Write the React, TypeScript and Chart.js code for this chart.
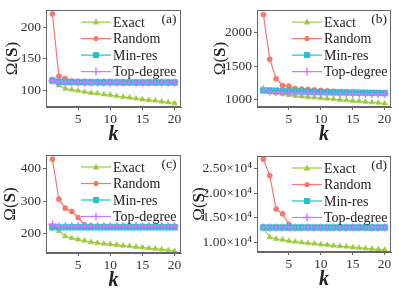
import React, { useEffect, useRef } from 'react';
import { Chart, registerables } from 'chart.js';
Chart.register(...registerables);

const kValues = [1, 2, 3, 4, 5, 6, 7, 8, 9, 10, 11, 12, 13, 14, 15, 16, 17, 18, 19, 20];
const seriesNames = ['Exact', 'Random', 'Min-res', 'Top-degree'];
const xTicks = [5, 10, 15, 20];

// Panel (a)
const exactA = [115, 107.5, 102, 100.5, 99, 97, 95.5, 94.5, 93, 92, 90.5, 89, 88, 86.5, 85, 84, 83, 81.5, 80.5, 79];
const randomA = [221, 122, 118, 114, 113.5, 113.5, 113, 113, 113, 113, 112.8, 112.8, 112.6, 112.6, 112.5, 112.5, 112.5, 112.4, 112.4, 112.3];
const minresA = [115, 113, 112.8, 112.6, 112.5, 112.4, 112.3, 112.3, 112.2, 112.2, 112.1, 112.1, 112, 112, 112, 112, 112, 112, 112, 112];
const topdegA = [115, 112.5, 112.3, 112.2, 112.1, 112, 112, 112, 112, 112, 112, 111.8, 111.8, 111.8, 111.8, 111.8, 111.8, 111.8, 111.8, 111.8];
const yTicksA = [100, 150, 200];

// Panel (b)
const exactB = [1150, 1110, 1100, 1090, 1075, 1060, 1050, 1040, 1035, 1025, 1020, 1010, 1000, 995, 985, 980, 972, 965, 958, 948];
const randomB = [2260, 1600, 1312, 1212, 1205, 1168, 1160, 1155, 1148, 1140, 1132, 1126, 1120, 1116, 1112, 1108, 1105, 1103, 1100, 1098];
const minresB = [1140, 1138, 1135, 1130, 1128, 1125, 1122, 1120, 1118, 1115, 1113, 1112, 1110, 1108, 1107, 1105, 1104, 1103, 1102, 1100];
const topdegB = [1155, 1120, 1112, 1108, 1105, 1102, 1100, 1098, 1097, 1095, 1094, 1093, 1092, 1091, 1090, 1089, 1088, 1087, 1086, 1085];
const yTicksB = [1000, 1500, 2000];

// Panel (c)
const exactC = [224, 207, 191, 185, 181, 177, 173, 170, 168, 166, 164, 162, 160, 158, 156, 154, 152, 150, 148, 145];
const randomC = [430, 306, 278, 268, 249, 226, 223, 222, 222, 222, 222, 222, 222, 222, 222, 222, 222, 222, 222, 222];
const minresC = [219, 219, 219, 219, 219, 219, 219, 219, 219, 219, 219, 219, 219, 219, 219, 219, 219, 219, 219, 219];
const topdegC = [228, 222, 222, 222, 222, 222, 222, 222, 222, 222, 222, 222, 222, 222, 222, 222, 222, 222, 222, 222];
const yTicksC = [200, 300, 400];

// Panel (d)
const exactD = [13000, 11000, 10670, 10500, 10250, 10100, 9950, 9800, 9700, 9550, 9450, 9300, 9200, 9100, 8950, 8850, 8750, 8650, 8550, 8450];
const randomD = [26960, 23600, 16770, 15800, 13650, 13000, 13000, 13000, 13000, 13000, 13000, 13000, 13000, 13000, 13000, 13000, 13000, 13000, 13000, 13000];
const minresD = [13000, 13000, 13000, 13000, 13000, 13000, 13000, 13000, 13000, 13000, 13000, 13000, 13000, 13000, 13000, 13000, 13000, 13000, 13000, 13000];
const topdegD = [13000, 13000, 13000, 13000, 13000, 13000, 13000, 13000, 13000, 13000, 13000, 13000, 13000, 13000, 13000, 13000, 13000, 13000, 13000, 13000];
const yTicksD = [10000, 15000, 20000, 25000];

const W = 399;
const H = 299;
const FONT = '"Liberation Serif", "Times New Roman", serif';
const FRAME = '#666666';
const TEXT = '#333333';
const COLORS = ['#9BCB3B', '#F8766D', '#1EC1CB', '#C77CFF'];
const STYLES = ['triangle', 'circle', 'rect', 'cross'];
const RADII = [3.2, 2.6, 4.2, 4];
const ORDERS = [3, 2, 1, 0];
const LEGEND_ROWS = [12, 28.5, 45, 61.5];

type PanelSpec = {
  label: string;
  series: number[][];
  area: [number, number, number, number]; // L, T, R, B
  yRange: [number, number];
  yTicks: number[];
  yTitleX: number;
  fmt: (v: number) => string;
};

const panels: PanelSpec[] = [
  { label: '(a)', series: [exactA, randomA, minresA, topdegA], area: [46, 8, 181, 107], yRange: [73, 227], yTicks: yTicksA, yTitleX: 13, fmt: (v) => String(v) },
  { label: '(b)', series: [exactB, randomB, minresB, topdegB], area: [257, 8, 391, 107], yRange: [895, 2325], yTicks: yTicksB, yTitleX: 221, fmt: (v) => String(v) },
  { label: '(c)', series: [exactC, randomC, minresC, topdegC], area: [46, 155, 181, 253], yRange: [139, 443], yTicks: yTicksC, yTitleX: 11, fmt: (v) => String(v) },
  { label: '(d)', series: [exactD, randomD, minresD, topdegD], area: [257, 156, 391, 252], yRange: [8000, 27600], yTicks: yTicksD, yTitleX: 200, fmt: (v) => (v / 1e4).toFixed(2) + '×10⁴' },
];

function drawMarker(ctx: CanvasRenderingContext2D, style: string, x: number, y: number, r: number, color: string) {
  ctx.save();
  ctx.fillStyle = color;
  ctx.strokeStyle = color;
  ctx.lineWidth = 1;
  ctx.beginPath();
  if (style === 'triangle') {
    ctx.moveTo(x, y - r * 1.1);
    ctx.lineTo(x + r, y + r * 0.75);
    ctx.lineTo(x - r, y + r * 0.75);
    ctx.closePath();
    ctx.fill();
  } else if (style === 'circle') {
    ctx.arc(x, y, r, 0, Math.PI * 2);
    ctx.fill();
  } else if (style === 'rect') {
    const s = r / Math.SQRT2;
    ctx.rect(x - s, y - s, 2 * s, 2 * s);
    ctx.fill();
  } else {
    ctx.lineWidth = 1.4;
    ctx.moveTo(x - r, y);
    ctx.lineTo(x + r, y);
    ctx.moveTo(x, y - r);
    ctx.lineTo(x, y + r);
    ctx.stroke();
  }
  ctx.restore();
}

function makeDecor(p: PanelSpec) {
  return {
    id: 'decor' + p.label,
    afterDraw(chart: any) {
      const ctx: CanvasRenderingContext2D = chart.ctx;
      const ca = chart.chartArea;
      ctx.save();
      ctx.strokeStyle = FRAME;
      ctx.lineWidth = 1;
      ctx.strokeRect(Math.round(ca.left) + 0.5, Math.round(ca.top) + 0.5, Math.round(ca.right - ca.left) - 1, Math.round(ca.bottom - ca.top) - 1);

      // legend
      for (let i = 0; i < seriesNames.length; i++) {
        const y = ca.top + LEGEND_ROWS[i];
        ctx.strokeStyle = COLORS[i];
        ctx.lineWidth = 1.2;
        ctx.beginPath();
        ctx.moveTo(ca.left + 35, y);
        ctx.lineTo(ca.left + 65, y);
        ctx.stroke();
        drawMarker(ctx, STYLES[i], ca.left + 50, y, RADII[i], COLORS[i]);
        ctx.fillStyle = '#222';
        ctx.font = '14px ' + FONT;
        ctx.textAlign = 'left';
        ctx.textBaseline = 'middle';
        ctx.fillText(seriesNames[i], ca.left + 67, y + 1);
      }

      // panel label
      ctx.fillStyle = '#222';
      ctx.font = '13.5px ' + FONT;
      ctx.textAlign = 'center';
      ctx.textBaseline = 'middle';
      ctx.fillText(p.label, ca.right - 12, ca.top + 9);

      // x title
      ctx.font = 'italic bold 20px ' + FONT;
      ctx.fillText('k', (ca.left + ca.right) / 2, ca.bottom + 28);

      // y title
      ctx.save();
      ctx.translate(p.yTitleX, (ca.top + ca.bottom) / 2);
      ctx.rotate(-Math.PI / 2);
      const reg = '17px ' + FONT;
      const bold = 'bold 17px ' + FONT;
      ctx.font = reg;
      const w1 = ctx.measureText('Ω(').width;
      const w3 = ctx.measureText(')').width;
      ctx.font = bold;
      const w2 = ctx.measureText('S').width;
      let x0 = -(w1 + w2 + w3) / 2;
      ctx.textAlign = 'left';
      ctx.fillStyle = '#222';
      ctx.font = reg;
      ctx.fillText('Ω(', x0, 0);
      ctx.font = bold;
      ctx.fillText('S', x0 + w1, 0);
      ctx.font = reg;
      ctx.fillText(')', x0 + w1 + w2, 0);
      ctx.restore();

      ctx.restore();
    },
  };
}

function Panel({ p }: { p: PanelSpec }) {
  const ref = useRef<HTMLCanvasElement | null>(null);
  useEffect(() => {
    if (!ref.current) return;
    const [L, T, R, B] = p.area;
    const yW = L >= 200 ? 70 : L;
    const xH = 20;
    const chart = new Chart(ref.current, {
      type: 'line',
      data: {
        datasets: p.series.map((arr, i) => ({
          label: seriesNames[i],
          data: kValues.map((k, j) => ({ x: k, y: arr[j] })),
          borderColor: COLORS[i],
          backgroundColor: COLORS[i],
          pointBackgroundColor: COLORS[i],
          pointBorderColor: COLORS[i],
          borderWidth: 1.2,
          pointStyle: STYLES[i] as any,
          pointRadius: RADII[i],
          pointBorderWidth: STYLES[i] === 'cross' ? 1.4 : 0.5,
          order: ORDERS[i],
          tension: 0,
        })),
      },
      options: {
        responsive: false,
        animation: false,
        devicePixelRatio: 1,
        layout: { padding: { left: L - yW, top: T, right: W - R, bottom: H - B - xH } },
        plugins: { legend: { display: false }, tooltip: { enabled: false } },
        scales: {
          x: {
            type: 'linear',
            min: 0,
            max: 21,
            afterBuildTicks: (ax: any) => { ax.ticks = xTicks.map((v) => ({ value: v })); },
            afterFit: (ax: any) => { ax.height = xH; },
            grid: { drawOnChartArea: false, drawTicks: true, tickLength: 3, color: FRAME },
            border: { display: true, color: FRAME },
            ticks: { font: { family: FONT, size: 13.5 }, color: TEXT, padding: 1, maxRotation: 0, autoSkip: false },
          },
          y: {
            type: 'linear',
            min: p.yRange[0],
            max: p.yRange[1],
            afterBuildTicks: (ax: any) => { ax.ticks = p.yTicks.map((v) => ({ value: v })); },
            afterFit: (ax: any) => { ax.width = yW; },
            grid: { drawOnChartArea: false, drawTicks: true, tickLength: 3, color: FRAME },
            border: { display: true, color: FRAME },
            ticks: { font: { family: FONT, size: 13.5 }, color: TEXT, padding: 2, autoSkip: false, callback: (v: any) => p.fmt(Number(v)) },
          },
        },
      },
      plugins: [makeDecor(p)],
    } as any);
    return () => chart.destroy();
  }, [p]);
  return (
    <canvas
      ref={ref}
      width={W}
      height={H}
      style={{ position: 'absolute', left: 0, top: 0, width: W, height: H }}
    />
  );
}

export default function App() {
  return (
    <div style={{ position: 'fixed', left: 0, top: 0, width: W, height: H, background: '#fff', overflow: 'hidden' }}>
      {panels.map((p) => (
        <Panel key={p.label} p={p} />
      ))}
    </div>
  );
}
